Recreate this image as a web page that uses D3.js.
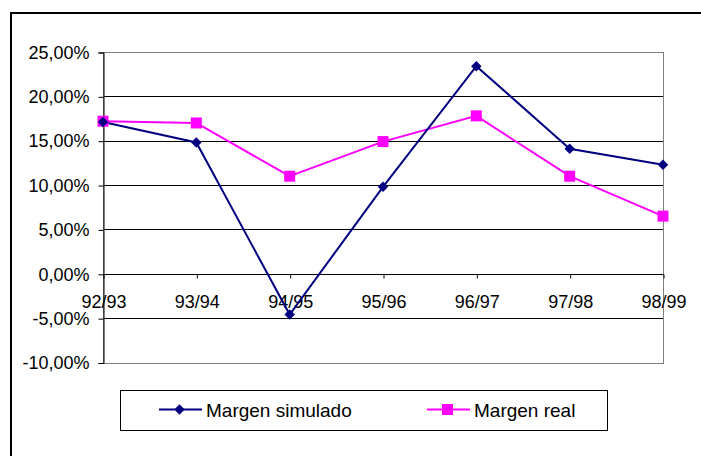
<!DOCTYPE html>
<html>
<head>
<meta charset="utf-8">
<script src="https://cdn.jsdelivr.net/npm/d3@7"></script>
<style>
  body { margin: 0; background: #fff; }
  text { font-family: "Liberation Sans", Arial, sans-serif; }
</style>
</head>
<body>
<div id="chart"></div>
<script>
var seasons = ["92/93", "93/94", "94/95", "95/96", "96/97", "97/98", "98/99"]
var simulado = [17.1, 14.8, -4.6, 9.8, 23.4, 14.1, 12.3]
var real = [17.2, 17.0, 11.0, 14.9, 17.8, 11.0, 6.5]
var yTicks = [-10, -5, 0, 5, 10, 15, 20, 25]
var seriesNames = ["Margen simulado", "Margen real"]

var navy = "#000080"
var pink = "#ff00ff"

var w = 701
var h = 456
var pL = 103, pR = 663, pT = 52, pB = 362.5
var fs = 18

var svg = d3.select("#chart").append("svg")
    .attr("width", w)
    .attr("height", h)

// outer chart frame (runs off the picture on right and bottom)
svg.append("rect")
    .attr("x", 11).attr("y", 13)
    .attr("width", 720).attr("height", 480)
    .attr("fill", "none")
    .attr("stroke", "#000")
    .attr("stroke-width", 2)

var x = d3.scalePoint().domain(seasons).range([pL, pR]).padding(0)
var y = d3.scaleLinear().domain([-10, 25]).range([pB, pT])

// gridlines
svg.selectAll(".grid")
    .data(yTicks)
    .join("line")
    .attr("class", "grid")
    .attr("x1", pL).attr("x2", pR)
    .attr("y1", function(d){ return Math.round(y(d)) + 0.5 })
    .attr("y2", function(d){ return Math.round(y(d)) + 0.5 })
    .attr("stroke", "#000")
    .attr("stroke-width", 1)

// plot area border
svg.append("rect")
    .attr("x", pL + 0.5).attr("y", Math.round(pT) + 0.5)
    .attr("width", pR - pL)
    .attr("height", Math.round(pB) - Math.round(pT))
    .attr("fill", "none")
    .attr("stroke", "#808080")
    .attr("stroke-width", 1)

// comma decimals, plain hyphen for negatives
var fmt = function(d){
    var s = Math.abs(d).toFixed(2).replace(".", ",") + "%"
    return d < 0 ? "-" + s : s
}

var yAxis = d3.axisLeft(y).tickValues(yTicks).tickFormat(fmt).tickSize(5).tickPadding(9)
var gy = svg.append("g").attr("transform", "translate(" + (pL + 0.5) + ",0.5)").call(yAxis)
gy.selectAll("text").attr("font-size", fs).attr("fill", "#000").attr("font-family", "'Liberation Sans', Arial, sans-serif")
gy.selectAll("line").attr("stroke", "#000")
gy.select(".domain").attr("stroke", "#000")

var xAxis = d3.axisBottom(x).tickSize(4).tickPadding(17)
var gx = svg.append("g").attr("transform", "translate(0.5," + (Math.round(y(0)) + 0.5) + ")").call(xAxis)
gx.selectAll("text").attr("font-size", fs).attr("fill", "#000").attr("font-family", "'Liberation Sans', Arial, sans-serif")
gx.selectAll("line").attr("stroke", "#000")
gx.select(".domain").attr("stroke", "#000").attr("d", "M" + pL + ",0H" + pR)

var line = d3.line()
    .x(function(d, i){ return x(seasons[i]) })
    .y(function(d){ return y(d) })

svg.append("path").datum(real)
    .attr("d", line).attr("fill", "none")
    .attr("stroke", pink).attr("stroke-width", 2)

svg.append("path").datum(simulado)
    .attr("d", line).attr("fill", "none")
    .attr("stroke", navy).attr("stroke-width", 2)

var diamond = d3.symbol().type(d3.symbolDiamond2).size(70)

svg.selectAll(".sqReal")
    .data(real)
    .join("rect")
    .attr("class", "sqReal")
    .attr("x", function(d, i){ return x(seasons[i]) - 5.5 })
    .attr("y", function(d){ return y(d) - 5.5 })
    .attr("width", 11).attr("height", 11)
    .attr("fill", pink)

svg.selectAll(".dmSim")
    .data(simulado)
    .join("path")
    .attr("class", "dmSim")
    .attr("d", diamond)
    .attr("transform", function(d, i){ return "translate(" + x(seasons[i]) + "," + y(d) + ")" })
    .attr("fill", navy)

// legend
var lg = svg.append("g")
lg.append("rect")
    .attr("x", 120.5).attr("y", 390.5)
    .attr("width", 487).attr("height", 40)
    .attr("fill", "#fff")
    .attr("stroke", "#000").attr("stroke-width", 1)

var legendItems = [
    {name: seriesNames[0], color: navy, x0: 159},
    {name: seriesNames[1], color: pink, x0: 427}
]
var ly = 409.5
legendItems.forEach(function(it, i){
    lg.append("line")
        .attr("x1", it.x0).attr("x2", it.x0 + 43)
        .attr("y1", ly).attr("y2", ly)
        .attr("stroke", it.color).attr("stroke-width", 2)
    if (i == 0) {
        lg.append("path").attr("d", diamond)
            .attr("transform", "translate(" + (it.x0 + 20.5) + "," + ly + ")")
            .attr("fill", it.color)
    } else {
        lg.append("rect")
            .attr("x", it.x0 + 15).attr("y", ly - 5.5)
            .attr("width", 11).attr("height", 11)
            .attr("fill", it.color)
    }
    lg.append("text")
        .attr("x", it.x0 + 47).attr("y", ly + 7)
        .attr("font-size", 19)
        .attr("fill", "#000")
        .text(it.name)
})
</script>
</body>
</html>
